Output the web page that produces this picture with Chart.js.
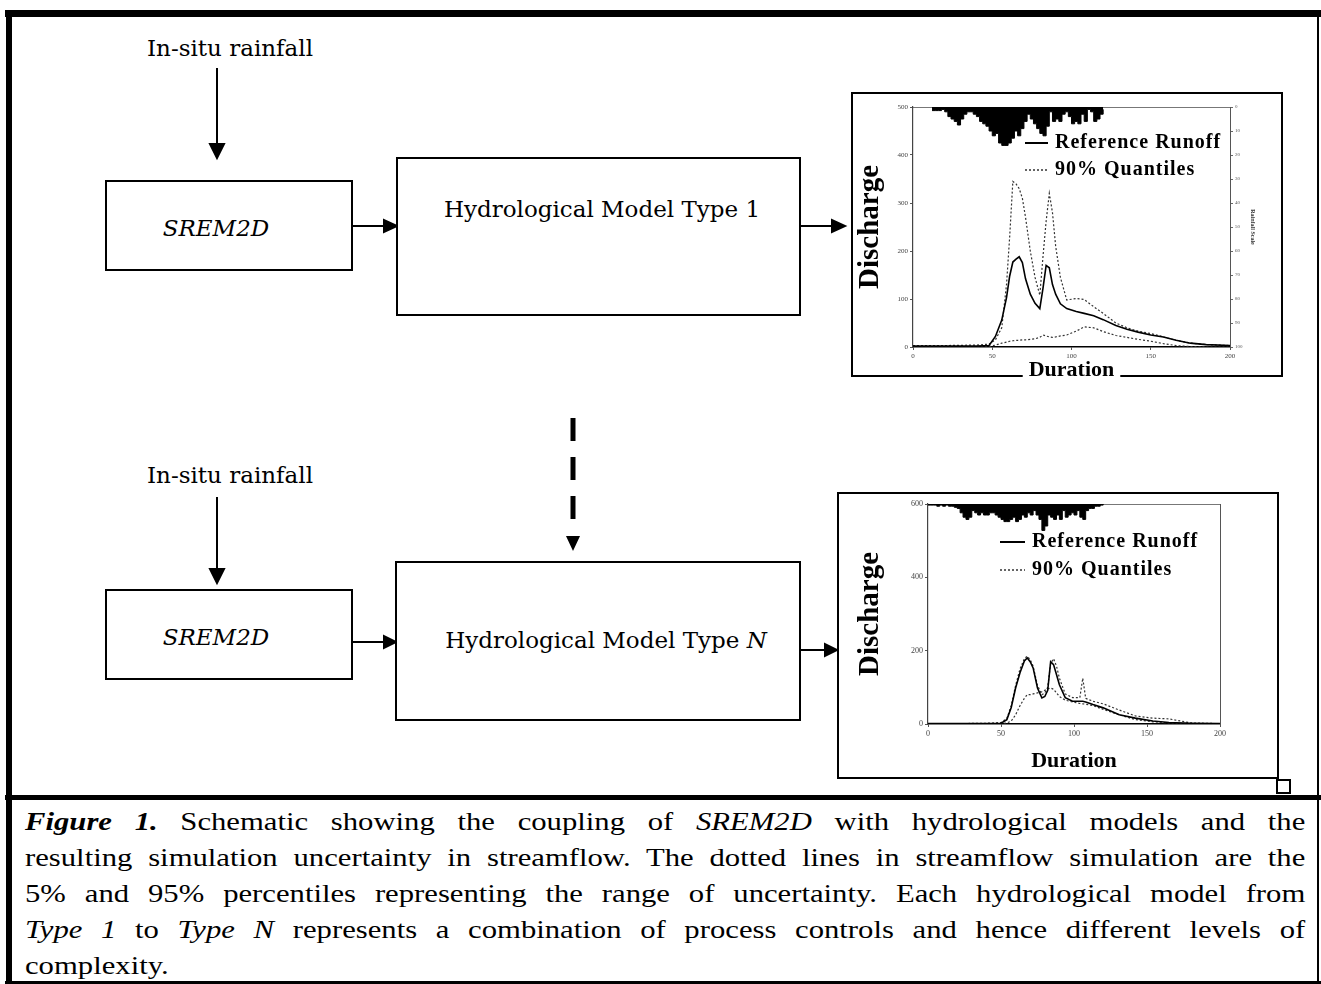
<!DOCTYPE html>
<html><head><meta charset="utf-8">
<script src="https://cdn.jsdelivr.net/npm/chart.js@4.4.1/dist/chart.umd.min.js"></script>
<style>
html,body{margin:0;padding:0;background:#fff;}
#page{position:relative;width:1321px;height:984px;overflow:hidden;background:#fff;}
.bar{position:absolute;background:#000;}
.box{position:absolute;border:2px solid #000;box-sizing:border-box;background:#fff;}
.t{position:absolute;transform:translate(-50%,-50%);white-space:nowrap;font-family:'DejaVu Serif',serif;font-size:23px;color:#000;}
canvas{position:absolute;}
#caption{position:absolute;left:25px;top:804px;width:1085px;transform:scaleX(1.18);transform-origin:0 0;font-family:'Liberation Serif','Times New Roman',serif;font-size:26px;line-height:36px;color:#000;}
#caption div{text-align:justify;text-align-last:justify;}
#caption div.last{text-align-last:left;}
</style></head>
<body>
<div id="page">
  <div class="bar" style="left:5px;top:10px;width:1316px;height:7px"></div>
  <div class="bar" style="left:6px;top:10px;width:6px;height:974px"></div>
  <div class="bar" style="left:1317px;top:10px;width:2px;height:974px"></div>
  <div class="bar" style="left:5px;top:795px;width:1316px;height:5px"></div>
  <div class="bar" style="left:5px;top:981px;width:1316px;height:3px"></div>

  <svg width="1321" height="984" style="position:absolute;left:0;top:0">
    <g stroke="#000" stroke-width="2" fill="#000">
      <line x1="217" y1="68" x2="217" y2="146"/><polygon points="210,144 224,144 217,158"/>
      <line x1="217" y1="497" x2="217" y2="570"/><polygon points="210,569 224,569 217,583"/>
      <line x1="352" y1="226" x2="385" y2="226"/><polygon points="384,220 384,232 397,226"/>
      <line x1="800" y1="226" x2="833" y2="226"/><polygon points="832,220 832,232 845,226"/>
      <line x1="352" y1="642" x2="385" y2="642"/><polygon points="384,636 384,648 396,642"/>
      <line x1="800" y1="650" x2="826" y2="650"/><polygon points="825,644 825,656 837,650"/>
    </g>
    <line x1="573" y1="418" x2="573" y2="520" stroke="#000" stroke-width="5" stroke-dasharray="23 16"/>
    <polygon points="566,536 580,536 573,551" fill="#000"/>
  </svg>

  <div class="t" style="left:230px;top:48px">In-situ rainfall</div>
  <div class="t" style="left:230px;top:475px">In-situ rainfall</div>

  <div class="box" style="left:105px;top:180px;width:248px;height:91px"></div>
  <div class="t" style="left:216px;top:228px;font-style:italic">SREM2D</div>
  <div class="box" style="left:396px;top:157px;width:405px;height:159px"></div>
  <div class="t" style="left:602px;top:209px">Hydrological Model Type 1</div>

  <div class="box" style="left:105px;top:589px;width:248px;height:91px"></div>
  <div class="t" style="left:216px;top:637px;font-style:italic">SREM2D</div>
  <div class="box" style="left:395px;top:561px;width:406px;height:160px"></div>
  <div class="t" style="left:606px;top:640px">Hydrological Model Type <i>N</i></div>

  <div class="box" style="left:851px;top:92px;width:432px;height:285px"></div>
  <div class="box" style="left:837px;top:492px;width:442px;height:287px"></div>
  <div class="box" style="left:1276px;top:779px;width:15px;height:15px;background:transparent"></div>

  <canvas id="c1" width="432" height="292" style="left:851px;top:92px"></canvas>
  <canvas id="c2" width="440" height="290" style="left:838px;top:493px"></canvas>

  <div id="caption">
    <div><b><i>Figure 1.</i></b> Schematic showing the coupling of <i>SREM2D</i> with hydrological models and the</div>
    <div>resulting simulation uncertainty in streamflow. The dotted lines in streamflow simulation are the</div>
    <div>5% and 95% percentiles representing the range of uncertainty. Each hydrological model from</div>
    <div><i>Type 1</i> to <i>Type N</i> represents a combination of process controls and hence different levels of</div>
    <div class="last">complexity.</div>
  </div>
</div>

<script>
// ---------- data: Model Type 1 panel ----------
const topDuration  = [0, 20, 40, 48, 52, 56, 59, 61, 63, 65, 67, 69, 71, 74, 77, 80, 82, 84, 86, 88, 90, 93, 97, 103, 108, 114, 120, 128, 135, 142, 150, 158, 166, 175, 185, 200];
const topReference = [2, 2, 2, 3, 22, 56, 103, 148, 177, 183, 188, 176, 142, 110, 91, 80, 122, 170, 165, 130, 110, 90, 80, 74, 70, 65, 57, 45, 37, 31, 25, 21, 14, 8, 5, 3];
const topUpper     = [3, 3, 4, 6, 15, 40, 130, 230, 345, 340, 330, 310, 270, 200, 145, 108, 188, 262, 320, 280, 210, 145, 98, 101, 99, 84, 70, 50, 40, 33, 28, 21, 14, 8, 5, 3];
const topLower     = [0, 0, 0, 1, 4, 8, 10, 12, 13, 14, 14, 15, 15, 16, 17, 20, 25, 23, 21, 20, 21, 23, 25, 33, 42, 40, 32, 24, 20, 16, 12, 7, 3, 1, 0, 0];
const topRainDuration = [12, 14, 16, 18, 20, 22, 24, 26, 28, 30, 32, 34, 36, 38, 40, 42, 44, 46, 48, 50, 52, 54, 56, 58, 60, 62, 64, 66, 68, 70, 72, 74, 76, 78, 80, 82, 84, 86, 88, 90, 92, 94, 96, 98, 100, 102, 104, 106, 108, 110, 112, 114, 116, 118, 120];
const topRain = [1.5, 1.5, 1.5, 1, 2, 4, 5, 6, 7.5, 5, 3, 2, 2, 3, 4, 6, 7, 8, 10, 12, 11, 15, 16, 16, 15, 13, 10, 12, 9, 6, 3, 5, 7, 9, 11, 12, 8, 2, 6, 5, 6, 3, 2, 4, 7, 6, 7, 3, 6, 1, 2, 6, 5, 3, 1];

// ---------- data: Model Type N panel ----------
const bottomDuration  = [0, 20, 40, 50, 54, 57, 60, 63, 66, 68, 70, 72, 75, 78, 80, 82, 84, 86, 88, 90, 94, 99, 104, 106, 108, 113, 120, 131, 142, 154, 165, 180, 200];
const bottomReference = [1, 1, 1, 2, 12, 45, 98, 140, 172, 180, 170, 153, 98, 71, 75, 92, 170, 162, 135, 107, 72, 62, 62, 62, 60, 53, 44, 25, 16, 8, 4, 2, 1];
const bottomUpper     = [1, 1, 2, 4, 15, 50, 105, 150, 178, 185, 175, 158, 105, 80, 85, 100, 165, 178, 158, 125, 82, 72, 72, 125, 70, 62, 55, 38, 22, 16, 14, 3, 1];
const bottomLower     = [0, 0, 0, 1, 3, 8, 25, 50, 70, 80, 80, 82, 85, 88, 92, 96, 98, 95, 85, 75, 65, 60, 56, 55, 54, 50, 40, 25, 12, 6, 3, 1, 0];
const bottomRainDuration = [0, 2, 4, 6, 8, 10, 12, 14, 16, 18, 20, 22, 24, 26, 28, 30, 32, 34, 36, 38, 40, 42, 44, 46, 48, 50, 52, 54, 56, 58, 60, 62, 64, 66, 68, 70, 72, 74, 76, 78, 80, 82, 84, 86, 88, 90, 92, 94, 96, 98, 100, 102, 104, 106, 108, 110, 112, 114, 116, 118, 120];
const bottomRain = [0.5, 0.5, 0.5, 1, 0.5, 1, 0.5, 1, 1, 1.5, 2, 4, 6, 7, 6, 3, 4, 5, 4, 5, 5, 4, 4, 5, 6, 7, 8, 8, 7, 6, 8, 7, 5, 6, 4, 5, 3, 5, 7, 12, 10, 5, 6, 7, 5, 7, 3, 6, 5, 4, 5, 3, 6, 7, 3, 2, 2, 1, 1, 0.5, 0];

// ---------- tick labels ----------
const durationTicks = [0, 50, 100, 150, 200];
const topDischargeTicks = [0, 100, 200, 300, 400, 500];
const bottomDischargeTicks = [0, 200, 400, 600];
const rainTicks = [0, 10, 20, 30, 40, 50, 60, 70, 80, 90, 100];

// ---------- labels ----------
const xTitle = 'Duration';
const yTitle = 'Discharge';
const rainTitle = 'Rainfall Scale';
const refLabel = 'Reference Runoff';
const quantLabel = '90% Quantiles';

Chart.defaults.font.family = "'Liberation Serif', 'Times New Roman', serif";
Chart.defaults.color = '#000';

const zip = (xs, ys) => xs.map((x, i) => ({x: x, y: ys[i]}));
const setTicks = arr => scale => { scale.ticks = arr.map(v => ({value: v})); };

const insideLegend = {
  id: 'insideLegend',
  afterDraw(chart, args, opts) {
    const {ctx, chartArea} = chart;
    ctx.save();
    ctx.font = opts.font;
    if ('letterSpacing' in ctx) ctx.letterSpacing = opts.letterSpacing || '0px';
    ctx.textBaseline = 'middle';
    ctx.textAlign = 'left';
    ctx.fillStyle = '#000';
    let row = 0;
    chart.data.datasets.forEach(ds => {
      if (!ds.inLegend) return;
      const y = chartArea.top + opts.y + row * opts.rowGap;
      const x = chartArea.left + opts.x;
      ctx.beginPath();
      ctx.setLineDash(ds.borderDash || []);
      ctx.lineWidth = ds.legendLineWidth || ds.borderWidth;
      ctx.strokeStyle = ds.borderColor;
      ctx.moveTo(x, y);
      ctx.lineTo(x + opts.lineLen, y);
      ctx.stroke();
      ctx.setLineDash([]);
      ctx.fillText(ds.label, x + opts.lineLen + opts.gap, y);
      row++;
    });
    ctx.restore();
  }
};

const titleBackdrop = {
  id: 'titleBackdrop',
  beforeDraw(chart, args, opts) {
    if (!opts.enabled) return;
    const s = chart.scales.x;
    const t = s.options.title;
    const size = t.font.size;
    const ctx = chart.ctx;
    ctx.save();
    ctx.font = 'bold ' + size + "px 'Liberation Serif'";
    const w = ctx.measureText(t.text).width;
    const cy = s.bottom - size * 1.2 / 2 - (t.padding.bottom || 0);
    const cx = (s.left + s.right) / 2;
    ctx.fillStyle = '#fff';
    ctx.fillRect(cx - w / 2 - 6, cy - 12, w + 12, 24);
    ctx.restore();
  }
};

function makeChart(id, cfg) {
  const rain = {
    type: 'line', label: 'Rainfall', data: zip(cfg.rainX, cfg.rainY), yAxisID: 'y2',
    stepped: true, fill: {value: 0}, backgroundColor: '#000', borderColor: '#000',
    borderWidth: 1, pointRadius: 0, order: 3
  };
  const ref = {
    type: 'line', label: refLabel, data: zip(cfg.x, cfg.ref), yAxisID: 'y',
    borderColor: '#000', borderWidth: 1.6, pointRadius: 0, fill: false, tension: 0,
    inLegend: true, legendLineWidth: 2, order: 1
  };
  const up = {
    type: 'line', label: quantLabel, data: zip(cfg.x, cfg.up), yAxisID: 'y',
    borderColor: '#333', borderWidth: 1.2, borderDash: [2, 2], pointRadius: 0, fill: false,
    inLegend: true, legendLineWidth: 1.4, order: 2
  };
  const low = {
    type: 'line', label: quantLabel, data: zip(cfg.x, cfg.low), yAxisID: 'y',
    borderColor: '#333', borderWidth: 1.2, borderDash: [2, 2], pointRadius: 0, fill: false,
    inLegend: false, order: 2
  };
  return new Chart(document.getElementById(id), {
    type: 'line',
    data: {datasets: [rain, ref, up, low]},
    options: {
      responsive: false, animation: false, events: [],
      layout: {padding: {top: cfg.padTop, left: 0, right: 0, bottom: 0}},
      plugins: {
        legend: {display: false}, tooltip: {enabled: false},
        insideLegend: cfg.legend,
        titleBackdrop: {enabled: cfg.backdrop}
      },
      scales: {
        x: {
          type: 'linear', position: 'bottom', min: 0, max: 200,
          afterBuildTicks: setTicks(durationTicks),
          ticks: {font: {size: cfg.tickSize}, color: '#444', maxRotation: 0, padding: 2},
          grid: {drawOnChartArea: false, tickLength: 3, color: '#555'},
          border: {color: '#000', width: 1.5},
          title: {display: true, text: xTitle, font: {size: 22, weight: 'bold'}, color: '#000',
                  padding: {top: 0, bottom: cfg.xTitlePad}},
          afterFit: s => { s.height = cfg.xHeight; }
        },
        xTop: {
          type: 'linear', position: 'top', min: 0, max: 200,
          ticks: {display: false}, grid: {display: false, drawTicks: false},
          border: {display: true, dash: [2, 3], color: '#777', width: 1},
          afterFit: s => { s.height = 0; }
        },
        y: {
          type: 'linear', position: 'left', min: 0, max: cfg.yMax,
          afterBuildTicks: setTicks(cfg.yTicks),
          ticks: {font: {size: cfg.tickSize}, color: '#444', padding: 2},
          grid: {drawOnChartArea: false, tickLength: 3, color: '#555'},
          border: {dash: [2, 2], color: '#444', width: 1.2},
          title: {display: true, text: yTitle, font: {size: 29, weight: 'bold'}, color: '#000',
                  padding: {top: cfg.yTitlePad, bottom: 0}},
          afterFit: s => { s.width = cfg.yWidth; }
        },
        y2: {
          type: 'linear', position: 'right', reverse: true, min: 0, max: 100,
          afterBuildTicks: setTicks(rainTicks),
          ticks: {display: cfg.rainAxis, font: {size: 5}, color: '#555', padding: 2},
          grid: {drawOnChartArea: false, display: cfg.rainAxis, tickLength: 3, color: '#666'},
          border: {dash: [2, 2], color: '#555', width: 1},
          title: {display: cfg.rainAxis, text: rainTitle, font: {size: 6, weight: 'bold'}, color: '#333',
                  padding: {top: 27, bottom: 0}},
          afterFit: s => { s.width = cfg.y2Width; }
        }
      }
    },
    plugins: [insideLegend, titleBackdrop]
  });
}

makeChart('c1', {
  x: topDuration, ref: topReference, up: topUpper, low: topLower,
  rainX: topRainDuration, rainY: topRain,
  yMax: 500, yTicks: topDischargeTicks, tickSize: 7,
  padTop: 15, xHeight: 37, yWidth: 62, y2Width: 53, xTitlePad: 0, yTitlePad: 2,
  rainAxis: true, backdrop: true,
  legend: {x: 112, y: 36, rowGap: 27, lineLen: 23, gap: 7, font: "bold 20px 'Liberation Serif'", letterSpacing: '1px'}
});

makeChart('c2', {
  x: bottomDuration, ref: bottomReference, up: bottomUpper, low: bottomLower,
  rainX: bottomRainDuration, rainY: bottomRain,
  yMax: 600, yTicks: bottomDischargeTicks, tickSize: 8,
  padTop: 11, xHeight: 59, yWidth: 90, y2Width: 58, xTitlePad: 8, yTitlePad: 15,
  rainAxis: false, backdrop: false,
  legend: {x: 72, y: 38, rowGap: 28, lineLen: 25, gap: 7, font: "bold 20px 'Liberation Serif'", letterSpacing: '1px'}
});
</script>
</body></html>
